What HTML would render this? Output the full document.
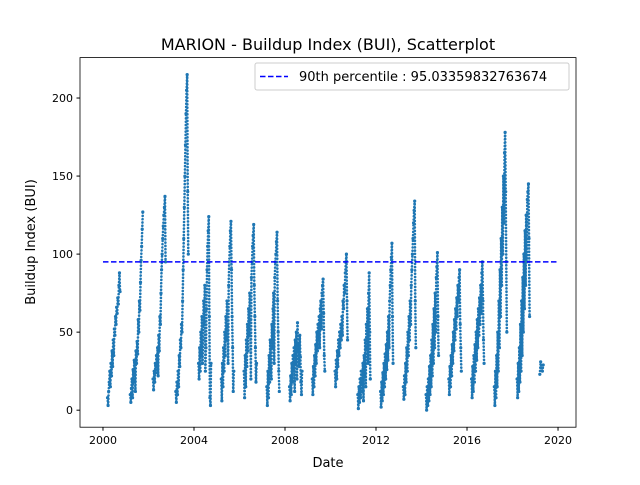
<!DOCTYPE html>
<html><head><meta charset="utf-8"><style>
body{margin:0;background:#fff;font-family:"Liberation Sans","DejaVu Sans",sans-serif}
</style></head><body>
<svg id="chart" width="640" height="480" viewBox="0 0 640 480" xmlns="http://www.w3.org/2000/svg" font-family="DejaVu Sans, Liberation Sans, sans-serif">
<rect width="640" height="480" fill="#fff"/>
<text x="328" y="50" font-size="16" text-anchor="middle">MARION - Buildup Index (BUI), Scatterplot</text>
<g id="points"></g>
<g id="axes"></g>
<line id="pline" stroke="#0000ff" stroke-width="1.5" stroke-dasharray="5.5,2.5"/>
<g>
<rect x="255" y="63" width="314" height="27" rx="2" fill="#fff" fill-opacity="0.8" stroke="#ccc"/>
<line x1="260" y1="76.5" x2="288" y2="76.5" stroke="#0000ff" stroke-width="1.5" stroke-dasharray="5.5,2.5"/>
<text x="299" y="81" font-size="13">90th percentile : 95.03359832763674</text>
</g>
<text x="328" y="467" font-size="13" text-anchor="middle">Date</text>
<text transform="translate(35,242) rotate(-90)" font-size="13" text-anchor="middle">Buildup Index (BUI)</text>
</svg>
<script>
const seasonYears=[2000,2001,2002,2003,2004,2005,2006,2007,2008,2009,2010,2011,2012,2013,2014,2015,2016,2017,2018,2019];
const seasonValues=[
[8,3,12,18,25,15,30,22,38,28,45,35,52,48,60,55,66,62,72,68,80,88,76],
[10,5,14,20,8,26,18,32,24,12,38,30,44,36,58,50,70,64,82,96,105,116,127],
[20,13,25,18,30,24,35,28,40,22,48,38,60,55,75,90,100,110,118,125,130,137,95],
[12,5,18,10,25,15,35,28,45,40,55,50,70,90,110,130,150,170,190,205,215,140,100],
[30,20,40,25,50,35,60,30,45,70,55,80,25,40,65,90,105,115,124,60,8,3,30],
[20,6,30,15,40,25,50,35,60,45,70,55,30,80,95,105,115,121,90,60,40,12,25],
[25,8,35,15,45,28,55,38,65,48,75,58,20,85,95,105,112,119,80,60,40,18,30],
[15,3,25,8,35,18,45,28,20,55,40,65,75,30,85,95,100,108,114,70,50,25,12],
[15,6,22,10,30,18,35,25,40,12,45,30,50,20,56,38,42,28,48,34,18,10,25],
[20,10,28,15,35,22,42,30,50,38,55,45,60,40,65,70,52,75,80,84,62,35,25],
[25,15,32,20,38,28,45,35,50,40,55,45,60,48,70,65,80,75,88,95,100,70,45],
[10,1,15,5,20,8,25,12,18,30,6,35,22,45,15,55,40,65,30,75,88,50,20],
[12,2,18,6,24,10,30,15,36,20,42,26,50,32,60,40,70,80,90,98,107,60,30],
[15,7,22,10,30,18,40,25,50,35,60,45,70,55,80,90,100,110,120,128,134,70,40],
[10,0,15,3,20,6,28,10,35,15,45,22,55,30,65,40,75,50,85,92,101,60,35],
[20,10,28,15,35,22,42,30,50,38,58,45,65,52,72,60,80,70,85,90,55,40,25],
[20,8,28,12,35,18,42,25,50,32,58,40,65,48,72,55,80,62,88,95,70,45,30],
[15,3,25,8,35,15,50,25,70,40,90,60,110,80,130,100,150,120,165,178,140,95,50],
[20,8,30,12,40,18,55,25,70,35,85,50,100,65,115,80,125,95,135,140,145,110,60],
[23,31,27,25,29]
];
const pctValue=95.03359832763674;
const xTicks=[2000,2004,2008,2012,2016,2020];
const yTicks=[0,50,100,150,200];
const seasonStart=0.2, seasonEnd=0.75;

const X0=80,X1=576,Y0=57.6,Y1=427.2;
const xMin=1998.99,xMax=2020.79,yMin=-10.9,yMax=225.9;
const xs=v=>X0+(v-xMin)/(xMax-xMin)*(X1-X0);
const ys=v=>Y1-(v-yMin)/(yMax-yMin)*(Y1-Y0);
const NS='http://www.w3.org/2000/svg';
const pts=document.getElementById('points');
seasonYears.forEach((yr,i)=>{
  const vals=seasonValues[i];
  const end=yr===2019?0.35:seasonEnd;
  vals.forEach((v,j)=>{
    const d=yr+seasonStart+(end-seasonStart)*j/Math.max(1,vals.length-1);
    const c=document.createElementNS(NS,'circle');
    
    
    c.setAttribute('cx',xs(d));c.setAttribute('cy',ys(v));c.setAttribute('r',1.6);
    c.setAttribute('fill','#1f77b4');
    pts.appendChild(c);
  });
  for(let j=1;j<vals.length;j++){
    const d0=yr+seasonStart+(end-seasonStart)*(j-1)/Math.max(1,vals.length-1);
    const d1=yr+seasonStart+(end-seasonStart)*j/Math.max(1,vals.length-1);
    const l=document.createElementNS(NS,'line');
    
    
    l.setAttribute('x1',xs(d0));l.setAttribute('y1',ys(vals[j-1]));
    l.setAttribute('x2',xs(d1));l.setAttribute('y2',ys(vals[j]));
    l.setAttribute('stroke','#1f77b4');l.setAttribute('stroke-width',2.6);
    l.setAttribute('stroke-linecap','round');
    l.setAttribute('stroke-dasharray','0.1,3.2');
    pts.appendChild(l);
  }
});
const pl=document.getElementById('pline');
pl.setAttribute('x1',xs(2000));pl.setAttribute('x2',xs(2020));
pl.setAttribute('y1',ys(pctValue));pl.setAttribute('y2',ys(pctValue));
const ax=document.getElementById('axes');
const frame=document.createElementNS(NS,'rect');


frame.setAttribute('x',X0);frame.setAttribute('y',Y0);frame.setAttribute('width',X1-X0);frame.setAttribute('height',Y1-Y0);
frame.setAttribute('fill','none');frame.setAttribute('stroke','#000');frame.setAttribute('stroke-width',0.8);
ax.appendChild(frame);
xTicks.forEach(t=>{
  const l=document.createElementNS(NS,'line');
  
  
  l.setAttribute('x1',xs(t));l.setAttribute('x2',xs(t));l.setAttribute('y1',Y1);l.setAttribute('y2',Y1+3.5);l.setAttribute('stroke','#000');
  ax.appendChild(l);
  const tx=document.createElementNS(NS,'text');
  
  
  tx.setAttribute('x',xs(t));tx.setAttribute('y',Y1+17);tx.setAttribute('font-size','11');tx.setAttribute('text-anchor','middle');
  tx.textContent=t;ax.appendChild(tx);
});
yTicks.forEach(t=>{
  const l=document.createElementNS(NS,'line');
  
  
  l.setAttribute('x1',X0-3.5);l.setAttribute('x2',X0);l.setAttribute('y1',ys(t));l.setAttribute('y2',ys(t));l.setAttribute('stroke','#000');
  ax.appendChild(l);
  const tx=document.createElementNS(NS,'text');
  
  
  tx.setAttribute('x',X0-7);tx.setAttribute('y',ys(t)+4);tx.setAttribute('font-size','11');tx.setAttribute('text-anchor','end');
  tx.textContent=t;ax.appendChild(tx);
});
</script>
</body></html>
